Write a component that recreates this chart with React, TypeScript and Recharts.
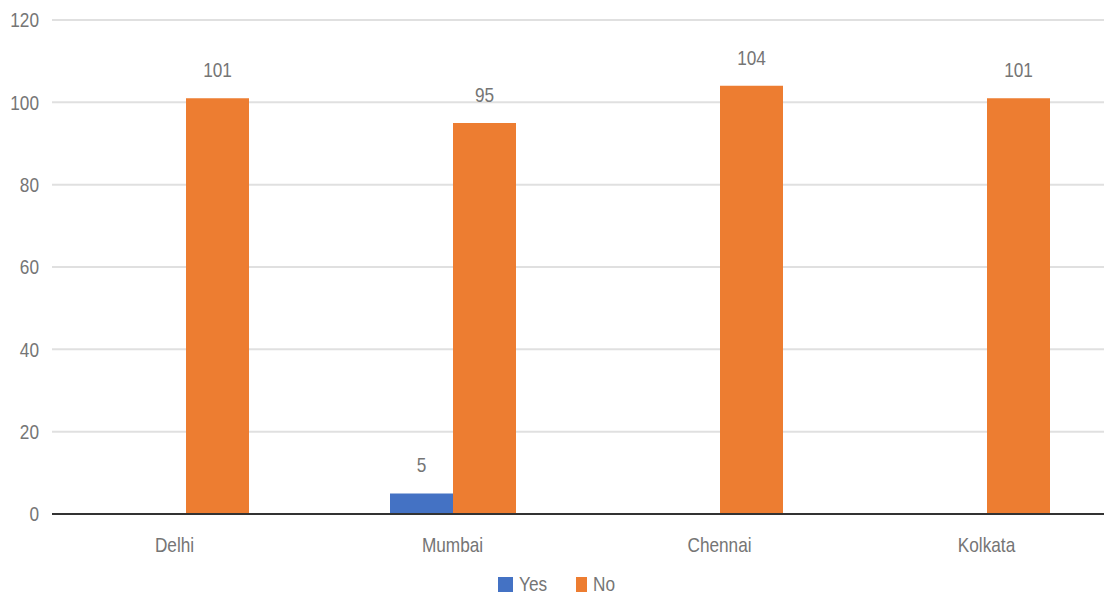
import { Bar, BarChart, CartesianGrid, LabelList, Legend, XAxis, YAxis } from 'recharts';

const cities = ['Delhi', 'Mumbai', 'Chennai', 'Kolkata'];
const yesValues = [0, 5, 0, 0];
const noValues = [101, 95, 104, 101];
const yTicks = [0, 20, 40, 60, 80, 100, 120];

const data = cities.map((city, i) => ({
  city,
  Yes: yesValues[i],
  No: noValues[i]
}));

const FONT = '"Liberation Sans", Arial, sans-serif';
const TEXT = '#757575';
const SIZE = 21;
const SQUEEZE = 0.82; // narrow-font look

// svg text squeezed horizontally
const Narrow = ({ x, y, anchor, dy, children }: any) => (
  <text
    transform={`translate(${x},${y}) scale(${SQUEEZE},1)`}
    textAnchor={anchor}
    dy={dy}
    fill={TEXT}
    fontSize={SIZE}
    fontFamily={FONT}
  >
    {children}
  </text>
);

const YTick = (props: any) => (
  <Narrow x={props.x} y={props.y} anchor="end" dy="0.355em">{props.payload.value}</Narrow>
);

// first label sits a bit left in the original
const XTick = (props: any) => (
  <Narrow x={props.x - (props.index === 0 ? 11 : 0)} y={props.y} anchor="middle" dy="0.71em">
    {props.payload.value}
  </Narrow>
);

const BarLabel = (props: any) => {
  const { x, y, width, value } = props;
  if (!value) return null;
  return <Narrow x={x + width / 2} y={y - 21} anchor="middle" dy="0">{value}</Narrow>;
};

const legendItems = [
  { name: 'Yes', color: '#4472C4', w: 78 },
  { name: 'No', color: '#ED7D31', w: 44 }
];

const LegendBox = () => (
  <div style={{ display: 'flex', justifyContent: 'center', alignItems: 'center', paddingTop: 14, paddingLeft: 14, fontFamily: FONT }}>
    {legendItems.map((it) => (
      <div key={it.name} style={{ display: 'flex', alignItems: 'center', width: it.w }}>
        <span style={{ display: 'inline-block', width: 15, height: 15, background: it.color, marginRight: 6 }} />
        <span style={{ display: 'inline-block', color: TEXT, fontSize: SIZE, transform: `scaleX(${SQUEEZE})`, transformOrigin: 'left center' }}>
          {it.name}
        </span>
      </div>
    ))}
  </div>
);

const App = () => {
  return (
    <div style={{ position: 'fixed', left: 0, top: 0, width: 1104, height: 594, overflow: 'hidden', background: '#fff' }}>
      <BarChart
        width={1120}
        height={594}
        data={data}
        margin={{ top: 20, right: 0, bottom: 0, left: 0 }}
        barGap={0}
        style={{ fontFamily: FONT }}
      >
        <CartesianGrid vertical={false} stroke="#e0e0e0" strokeWidth={2} />
        <XAxis
          dataKey="city"
          tickLine={false}
          axisLine={{ stroke: '#333', strokeWidth: 2 }}
          tick={<XTick />}
          tickMargin={17}
          height={44}
        />
        <YAxis
          domain={[0, 120]}
          ticks={yTicks}
          width={52}
          tickLine={false}
          axisLine={false}
          tick={<YTick />}
          tickMargin={7}
        />
        <Legend verticalAlign="bottom" content={<LegendBox />} wrapperStyle={{ left: 0, width: 1104, height: 36 }} />
        <Bar dataKey="Yes" fill="#4472C4" barSize={63} isAnimationActive={false}>
          <LabelList dataKey="Yes" content={<BarLabel />} />
        </Bar>
        <Bar dataKey="No" fill="#ED7D31" barSize={63} isAnimationActive={false}>
          <LabelList dataKey="No" content={<BarLabel />} />
        </Bar>
      </BarChart>
    </div>
  );
};

export default App;
